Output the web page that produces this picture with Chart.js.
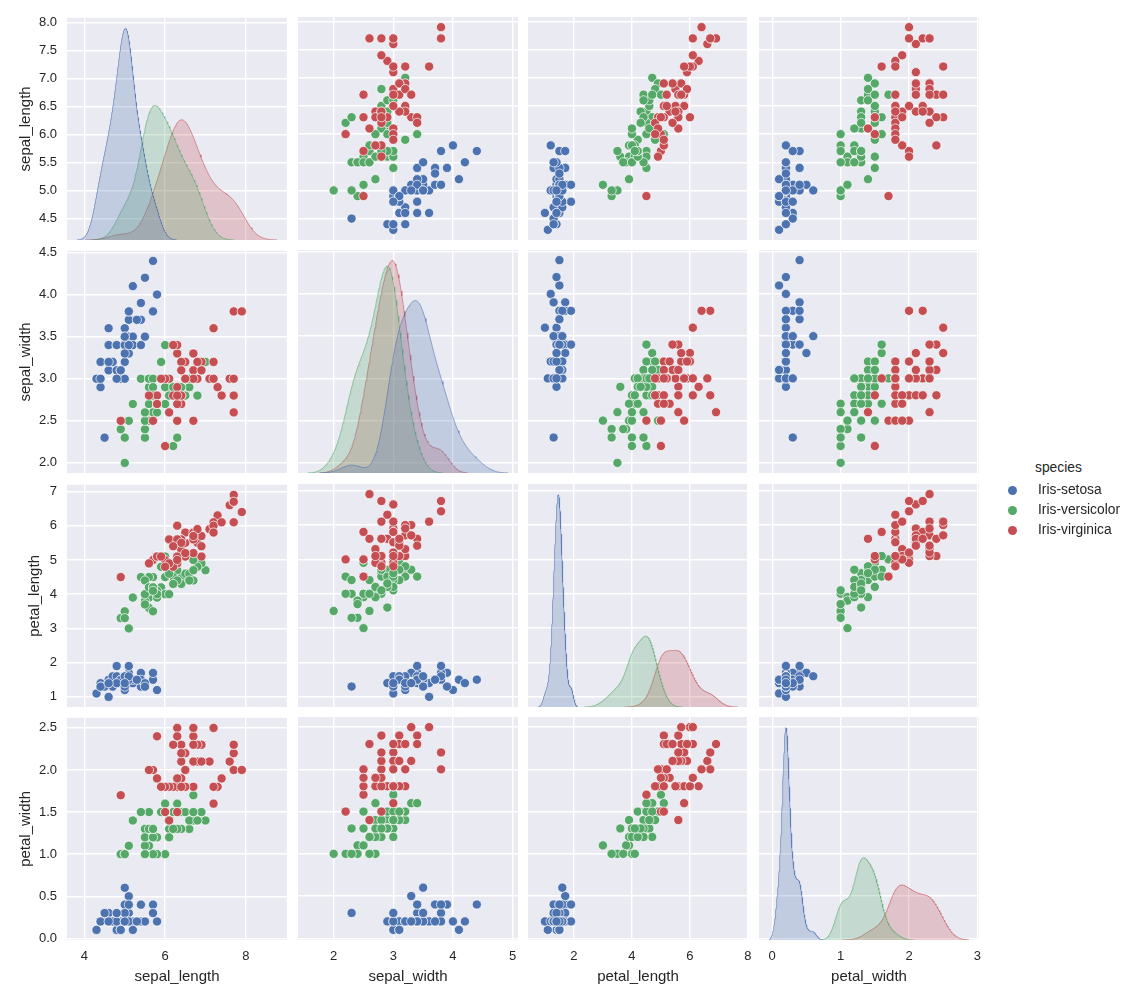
<!DOCTYPE html>
<html>
<head>
<meta charset="utf-8">
<title>Iris pairplot</title>
<script src="https://cdn.jsdelivr.net/npm/chart.js@4.4.0/dist/chart.umd.min.js"></script>
<style>
  body { margin: 0; background: #fff; }
  #wrap { position: relative; width: 1132px; height: 1000px; overflow: hidden;
          font-family: "Liberation Sans", Arial, sans-serif; color: #262626; }
  #wrap canvas { position: absolute; }
  .lg { position: absolute; font-size: 13.8px; line-height: 16px; white-space: nowrap; }
  .dot { position: absolute; width: 9px; height: 9px; border-radius: 50%; }
</style>
</head>
<body>
<div id="wrap">
  <div class="lg" style="left:1035px; top:460px;">species</div>
</div>
<script>
// iris data, one array per species and measurement
const setosaSL = [5.1,4.9,4.7,4.6,5.0,5.4,4.6,5.0,4.4,4.9,5.4,4.8,4.8,4.3,5.8,5.7,5.4,5.1,5.7,5.1,5.4,5.1,4.6,5.1,4.8,5.0,5.0,5.2,5.2,4.7,4.8,5.4,5.2,5.5,4.9,5.0,5.5,4.9,4.4,5.1,5.0,4.5,4.4,5.0,5.1,4.8,5.1,4.6,5.3,5.0];
const setosaSW = [3.5,3.0,3.2,3.1,3.6,3.9,3.4,3.4,2.9,3.1,3.7,3.4,3.0,3.0,4.0,4.4,3.9,3.5,3.8,3.8,3.4,3.7,3.6,3.3,3.4,3.0,3.4,3.5,3.4,3.2,3.1,3.4,4.1,4.2,3.1,3.2,3.5,3.1,3.0,3.4,3.5,2.3,3.2,3.5,3.8,3.0,3.8,3.2,3.7,3.3];
const setosaPL = [1.4,1.4,1.3,1.5,1.4,1.7,1.4,1.5,1.4,1.5,1.5,1.6,1.4,1.1,1.2,1.5,1.3,1.4,1.7,1.5,1.7,1.5,1.0,1.7,1.9,1.6,1.6,1.5,1.4,1.6,1.6,1.5,1.5,1.4,1.5,1.2,1.3,1.5,1.3,1.5,1.3,1.3,1.3,1.6,1.9,1.4,1.6,1.4,1.5,1.4];
const setosaPW = [0.2,0.2,0.2,0.2,0.2,0.4,0.3,0.2,0.2,0.1,0.2,0.2,0.1,0.1,0.2,0.4,0.4,0.3,0.3,0.3,0.2,0.4,0.2,0.5,0.2,0.2,0.4,0.2,0.2,0.2,0.2,0.4,0.1,0.2,0.1,0.2,0.2,0.1,0.2,0.2,0.3,0.3,0.2,0.6,0.4,0.3,0.2,0.2,0.2,0.2];

const versicolorSL = [7.0,6.4,6.9,5.5,6.5,5.7,6.3,4.9,6.6,5.2,5.0,5.9,6.0,6.1,5.6,6.7,5.6,5.8,6.2,5.6,5.9,6.1,6.3,6.1,6.4,6.6,6.8,6.7,6.0,5.7,5.5,5.5,5.8,6.0,5.4,6.0,6.7,6.3,5.6,5.5,5.5,6.1,5.8,5.0,5.6,5.7,5.7,6.2,5.1,5.7];
const versicolorSW = [3.2,3.2,3.1,2.3,2.8,2.8,3.3,2.4,2.9,2.7,2.0,3.0,2.2,2.9,2.9,3.1,3.0,2.7,2.2,2.5,3.2,2.8,2.5,2.8,2.9,3.0,2.8,3.0,2.9,2.6,2.4,2.4,2.7,2.7,3.0,3.4,3.1,2.3,3.0,2.5,2.6,3.0,2.6,2.3,2.7,3.0,2.9,2.9,2.5,2.8];
const versicolorPL = [4.7,4.5,4.9,4.0,4.6,4.5,4.7,3.3,4.6,3.9,3.5,4.2,4.0,4.7,3.6,4.4,4.5,4.1,4.5,3.9,4.8,4.0,4.9,4.7,4.3,4.4,4.8,5.0,4.5,3.5,3.8,3.7,3.9,5.1,4.5,4.5,4.7,4.4,4.1,4.0,4.4,4.6,4.0,3.3,4.2,4.2,4.2,4.3,3.0,4.1];
const versicolorPW = [1.4,1.5,1.5,1.3,1.5,1.3,1.6,1.0,1.3,1.4,1.0,1.5,1.0,1.4,1.3,1.4,1.5,1.0,1.5,1.1,1.8,1.3,1.5,1.2,1.3,1.4,1.4,1.7,1.5,1.0,1.1,1.0,1.2,1.6,1.5,1.6,1.5,1.3,1.3,1.3,1.2,1.4,1.2,1.0,1.3,1.2,1.3,1.3,1.1,1.3];

const virginicaSL = [6.3,5.8,7.1,6.3,6.5,7.6,4.9,7.3,6.7,7.2,6.5,6.4,6.8,5.7,5.8,6.4,6.5,7.7,7.7,6.0,6.9,5.6,7.7,6.3,6.7,7.2,6.2,6.1,6.4,7.2,7.4,7.9,6.4,6.3,6.1,7.7,6.3,6.4,6.0,6.9,6.7,6.9,5.8,6.8,6.7,6.7,6.3,6.5,6.2,5.9];
const virginicaSW = [3.3,2.7,3.0,2.9,3.0,3.0,2.5,2.9,2.5,3.6,3.2,2.7,3.0,2.5,2.8,3.2,3.0,3.8,2.6,2.2,3.2,2.8,2.8,2.7,3.3,3.2,2.8,3.0,2.8,3.0,2.8,3.8,2.8,2.8,2.6,3.0,3.4,3.1,3.0,3.1,3.1,3.1,2.7,3.2,3.3,3.0,2.5,3.0,3.4,3.0];
const virginicaPL = [6.0,5.1,5.9,5.6,5.8,6.6,4.5,6.3,5.8,6.1,5.1,5.3,5.5,5.0,5.1,5.3,5.5,6.7,6.9,5.0,5.7,4.9,6.7,4.9,5.7,6.0,4.8,4.9,5.6,5.8,6.1,6.4,5.6,5.1,5.6,6.1,5.6,5.5,4.8,5.4,5.6,5.1,5.1,5.9,5.7,5.2,5.0,5.2,5.4,5.1];
const virginicaPW = [2.5,1.9,2.1,1.8,2.2,2.1,1.7,1.8,1.8,2.5,2.0,1.9,2.1,2.0,2.4,2.3,1.8,2.2,2.3,1.5,2.3,2.0,2.0,1.8,2.1,1.8,1.8,1.8,2.1,1.6,1.9,2.0,2.2,1.5,1.4,2.3,2.4,1.8,1.8,2.1,2.4,2.3,1.9,2.3,2.5,2.3,1.9,2.0,2.3,1.8];

const variables = ['sepal_length', 'sepal_width', 'petal_length', 'petal_width'];
const speciesNames = ['Iris-setosa', 'Iris-versicolor', 'Iris-virginica'];
const speciesColors = ['#4C72B0', '#55A868', '#C44E52'];

// tick values and labels (x axis along the bottom, y axis down the left)
const xTicksSL = [4, 6, 8];
const xTicksSW = [2, 3, 4, 5];
const xTicksPL = [2, 4, 6, 8];
const xTicksPW = [0, 1, 2, 3];
const yTicksSL = [4.5, 5.0, 5.5, 6.0, 6.5, 7.0, 7.5, 8.0];
const yLabelsSL = ['4.5', '5.0', '5.5', '6.0', '6.5', '7.0', '7.5', '8.0'];
const yTicksSW = [2.0, 2.5, 3.0, 3.5, 4.0, 4.5];
const yLabelsSW = ['2.0', '2.5', '3.0', '3.5', '4.0', '4.5'];
const yTicksPL = [1, 2, 3, 4, 5, 6, 7];
const yLabelsPL = ['1', '2', '3', '4', '5', '6', '7'];
const yTicksPW = [0.0, 0.5, 1.0, 1.5, 2.0, 2.5];
const yLabelsPW = ['0.0', '0.5', '1.0', '1.5', '2.0', '2.5'];

const groups = {
  sepal_length: [setosaSL, versicolorSL, virginicaSL],
  sepal_width: [setosaSW, versicolorSW, virginicaSW],
  petal_length: [setosaPL, versicolorPL, virginicaPL],
  petal_width: [setosaPW, versicolorPW, virginicaPW]
};
const xTicks = { sepal_length: xTicksSL, sepal_width: xTicksSW, petal_length: xTicksPL, petal_width: xTicksPW };
const yTicks = { sepal_length: [yTicksSL, yLabelsSL], sepal_width: [yTicksSW, yLabelsSW],
                 petal_length: [yTicksPL, yLabelsPL], petal_width: [yTicksPW, yLabelsPW] };

const FONT = '"Liberation Sans", Arial, sans-serif';
const TEXT = '#262626';
const colLeft = [67, 298, 528, 759];
const rowTop = [17, 250, 484, 717];
const PW = 220, PH = 223;
const ML = 67, MT = 17, MR = 20, MB = 60;

function hexA(hex, a) {
  const n = parseInt(hex.slice(1), 16);
  return `rgba(${n >> 16},${(n >> 8) & 255},${n & 255},${a})`;
}

// gaussian kde, scott bandwidth, cut = 3, like seaborn
function kdeCurve(vals, weight) {
  const n = vals.length;
  const mean = vals.reduce((s, v) => s + v, 0) / n;
  const sd = Math.sqrt(vals.reduce((s, v) => s + (v - mean) ** 2, 0) / (n - 1));
  const bw = sd * Math.pow(n, -0.2);
  const lo = Math.min(...vals) - 3 * bw, hi = Math.max(...vals) + 3 * bw;
  const norm = weight / (n * bw * Math.sqrt(2 * Math.PI));
  const pts = [];
  for (let k = 0; k < 200; k++) {
    const x = lo + (hi - lo) * k / 199;
    let s = 0;
    for (const v of vals) s += Math.exp(-0.5 * ((x - v) / bw) ** 2);
    pts.push({ x: x, y: s * norm });
  }
  return { pts, lo, hi };
}

const curves = {}, xRange = {}, yRange = {}, kdeMax = {};
variables.forEach(v => {
  const total = groups[v].reduce((s, g) => s + g.length, 0);
  curves[v] = groups[v].map(g => kdeCurve(g, g.length / total));
  const lo = Math.min(...curves[v].map(c => c.lo));
  const hi = Math.max(...curves[v].map(c => c.hi));
  xRange[v] = [lo - 0.05 * (hi - lo), hi + 0.05 * (hi - lo)];
  const all = [].concat(...groups[v]);
  const dmin = Math.min(...all), dmax = Math.max(...all);
  yRange[v] = [dmin - 0.05 * (dmax - dmin), dmax + 0.05 * (dmax - dmin)];
  kdeMax[v] = Math.max(...curves[v].map(c => Math.max(...c.pts.map(p => p.y)))) * 1.05;
});

const panelBg = {
  id: 'panelBg',
  beforeDraw(chart) {
    const a = chart.chartArea;
    chart.ctx.save();
    chart.ctx.fillStyle = '#EAEAF2';
    chart.ctx.fillRect(a.left, a.top, a.right - a.left, a.bottom - a.top);
    chart.ctx.restore();
  }
};

const wrap = document.getElementById('wrap');

for (let r = 0; r < 4; r++) {
  for (let c = 0; c < 4; c++) {
    const xv = variables[c], yv = variables[r];
    const canvas = document.createElement('canvas');
    canvas.width = PW + ML + MR;
    canvas.height = PH + MT + MB;
    canvas.style.left = (colLeft[c] - ML) + 'px';
    canvas.style.top = (rowTop[r] - MT) + 'px';
    wrap.appendChild(canvas);

    let datasets;
    if (r === c) {
      datasets = curves[xv].map((cv, s) => ({
        type: 'line',
        data: cv.pts,
        yAxisID: 'yk',
        borderColor: hexA(speciesColors[s], 0.7),
        borderWidth: 0.8,
        backgroundColor: hexA(speciesColors[s], 0.25),
        fill: 'origin',
        pointRadius: 0,
        tension: 0,
        order: s
      }));
    } else {
      datasets = speciesNames.map((name, s) => ({
        label: name,
        data: groups[xv][s].map((x, k) => ({ x: x, y: groups[yv][s][k] })),
        backgroundColor: speciesColors[s],
        borderColor: '#ffffff',
        borderWidth: 0.7,
        pointRadius: 4.6,
        order: 2 - s
      }));
    }

    const xt = xTicks[xv].filter(t => t >= xRange[xv][0] && t <= xRange[xv][1]);
    const [yt, yl] = yTicks[yv];

    const scales = {
      x: {
        type: 'linear', position: 'bottom',
        min: xRange[xv][0], max: xRange[xv][1],
        border: { display: false },
        grid: { color: '#ffffff', lineWidth: 1.4, drawTicks: false },
        ticks: {
          display: r === 3, padding: 9, color: TEXT, autoSkip: false, maxRotation: 0,
          font: { family: FONT, size: 13 },
          callback: (v, i) => String(xt[i])
        },
        title: { display: r === 3, text: xv, color: TEXT, font: { family: FONT, size: 15 },
                 padding: { top: 0, bottom: 14 } },
        afterBuildTicks: ax => { ax.ticks = xt.map(v => ({ value: v })); },
        afterFit: ax => { ax.height = r === 3 ? MB : 0; }
      },
      y: {
        type: 'linear', position: 'left',
        min: yRange[yv][0], max: yRange[yv][1],
        border: { display: false },
        grid: { color: '#ffffff', lineWidth: 1.4, drawTicks: false },
        ticks: {
          display: c === 0, padding: 10, color: TEXT, autoSkip: false,
          font: { family: FONT, size: 13 },
          callback: (v, i) => yl[i]
        },
        title: { display: c === 0, text: yv, color: TEXT, font: { family: FONT, size: 15 },
                 padding: { top: r === 2 ? 26 : 17, bottom: 0 } },
        afterBuildTicks: ax => { ax.ticks = yt.map(v => ({ value: v })); },
        afterFit: ax => { ax.width = c === 0 ? ML : 0; }
      }
    };
    if (r === c) {
      scales.yk = { type: 'linear', display: false, min: 0, max: kdeMax[xv] };
    }

    new Chart(canvas, {
      type: 'scatter',
      data: { datasets: datasets },
      options: {
        responsive: false,
        animation: false,
        devicePixelRatio: 1,
        layout: { padding: { left: c === 0 ? 0 : ML, top: MT, right: MR, bottom: r === 3 ? 0 : MB } },
        plugins: { legend: { display: false }, tooltip: { enabled: false } },
        scales: scales
      },
      plugins: [panelBg]
    });
  }
}

// legend at the right
const legendY = [490, 510, 530];
speciesNames.forEach((name, s) => {
  const dot = document.createElement('div');
  dot.className = 'dot';
  dot.style.left = '1008px';
  dot.style.top = (legendY[s] - 4.5) + 'px';
  dot.style.background = speciesColors[s];
  wrap.appendChild(dot);
  const txt = document.createElement('div');
  txt.className = 'lg';
  txt.style.left = '1038px';
  txt.style.top = (legendY[s] - 8) + 'px';
  txt.textContent = name;
  wrap.appendChild(txt);
});
</script>
</body>
</html>
